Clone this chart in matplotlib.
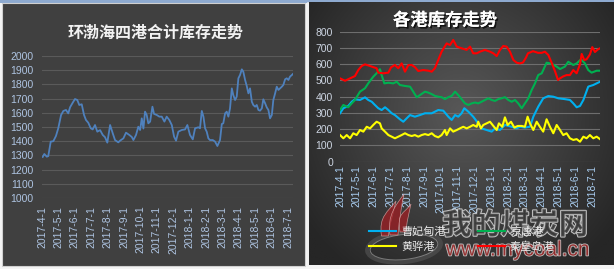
import numpy as np
import matplotlib
matplotlib.use('Agg')
import matplotlib.pyplot as plt
from matplotlib.patches import Rectangle, Ellipse, PathPatch
from matplotlib.path import Path
import matplotlib.patheffects as pe

plt.rcParams['font.family'] = ['Noto Sans CJK SC', 'DejaVu Sans']

# ---------------- data ----------------
month_labels = ['2017-4-1', '2017-5-1', '2017-6-1', '2017-7-1', '2017-8-1', '2017-9-1',
                '2017-10-1', '2017-11-1', '2017-12-1', '2018-1-1', '2018-2-1', '2018-3-1',
                '2018-4-1', '2018-5-1', '2018-6-1', '2018-7-1']

# left chart: total stock of four Bohai-rim ports (x in months since 2017-4-1)
total_months = [0.04, 0.14, 0.29, 0.38, 0.53, 0.69, 0.85, 0.99, 1.16, 1.30, 1.46, 1.60, 1.71, 1.87,
                2.01, 2.15, 2.27, 2.42, 2.56, 2.68, 2.82, 2.97, 3.09, 3.23, 3.37, 3.54, 3.70, 3.84,
                3.98, 4.15, 4.31, 4.45, 4.65,
                4.76, 4.96, 5.12, 5.32, 5.47, 5.57, 5.73, 5.87, 5.98, 6.08, 6.18, 6.28, 6.38, 6.48,
                6.59, 6.73, 6.83, 6.99, 7.15, 7.30, 7.46, 7.60, 7.76, 7.91, 8.05, 8.17, 8.31, 8.52,
                8.72, 8.86, 9.02, 9.19, 9.33, 9.53, 9.63, 9.74, 9.84, 9.94, 10.04, 10.14,
                10.24, 10.41, 10.55, 10.69, 10.85, 10.96, 11.05, 11.16, 11.26, 11.36, 11.46, 11.57,
                11.66, 11.77, 11.87, 11.97, 12.07, 12.18, 12.27, 12.38, 12.48, 12.58, 12.68, 12.79,
                12.88, 12.99, 13.09, 13.19, 13.29, 13.40, 13.49, 13.60, 13.70, 13.80, 13.90, 14.01,
                14.10, 14.21, 14.31, 14.41, 14.51, 14.62, 14.71, 14.82, 14.92, 15.02, 15.12, 15.23, 15.29]
total_stock = [1289, 1310, 1291, 1295, 1397, 1400, 1437, 1491, 1584, 1613, 1620, 1596, 1639, 1671,
               1697, 1690, 1655, 1660, 1585, 1549, 1530, 1491, 1483, 1514, 1467, 1478, 1444, 1428,
               1390, 1514, 1456, 1408, 1392,
               1404, 1420, 1460, 1444, 1430, 1408, 1444, 1502, 1479, 1561, 1489, 1608, 1585, 1526,
               1538, 1643, 1592, 1585, 1573, 1573, 1538, 1573, 1549, 1514, 1432, 1404, 1467, 1479,
               1483, 1514, 1444, 1413, 1491, 1498, 1491, 1613, 1573, 1491, 1467, 1420,
               1408, 1408, 1397, 1366, 1408, 1521, 1526, 1596, 1608, 1573, 1631, 1772,
               1725, 1690, 1714, 1843, 1866, 1906, 1890, 1831, 1789, 1737, 1772, 1678,
               1655, 1643, 1655, 1620, 1615, 1631, 1695, 1667, 1638, 1620, 1561, 1585,
               1690, 1737, 1784, 1761, 1772, 1784, 1796, 1836, 1843, 1831, 1855, 1866, 1873]

# right chart: individual ports
cfd_months = [0, 0.20, 0.49, 0.70, 0.89, 1.19, 1.49, 1.68, 1.89, 2.08, 2.28, 2.48, 2.68, 2.88, 3.08,
              3.27, 3.57, 3.77, 3.97, 4.17, 4.46, 4.76, 5.06, 5.46, 5.85, 6.15, 6.45, 6.65, 6.85, 7.04,
              7.24, 7.40, 7.64, 7.93, 8.23, 8.43, 8.73, 9.03, 9.23, 9.52, 9.82, 10.22, 10.52, 10.71,
              11.01, 11.31, 11.51, 11.80, 12.10, 12.40, 12.70, 13.00, 13.39, 13.69, 13.89, 14.09,
              14.29, 14.49, 14.78, 15.08, 15.38, 15.48]
cfd_stock = [298, 329, 343, 369, 384, 380, 396, 380, 369, 349, 329, 318, 335, 318, 298,
             287, 261, 246, 267, 287, 277, 287, 298, 298, 318, 314, 277, 257, 287, 277,
             298, 329, 308, 277, 236, 205, 195, 185, 205, 195, 226, 215, 205, 215,
             210, 215, 277, 338, 390, 404, 400, 390, 385, 380, 359, 335,
             343, 380, 462, 472, 487, 492]

jt_months = [0, 0.20, 0.49, 0.70, 0.89, 1.19, 1.49, 1.68, 1.98, 2.18, 2.38, 2.48, 2.64, 2.88, 3.17,
             3.38, 3.57, 3.87, 4.17, 4.36, 4.57, 4.76, 5.06, 5.26, 5.46, 5.65, 5.85, 6.05, 6.25, 6.45,
             6.65, 6.85, 7.04, 7.24, 7.44, 7.64, 7.84, 8.04, 8.23, 8.43, 8.63, 8.83, 9.03, 9.23, 9.42,
             9.62, 9.82, 10.02, 10.22, 10.42, 10.61, 10.82, 11.01, 11.21, 11.41, 11.61, 11.80, 12.01,
             12.30, 12.60, 12.90, 13.10, 13.39, 13.59, 13.89, 14.09, 14.35, 14.58, 14.78, 14.98,
             15.28, 15.48]
jt_stock = [318, 349, 335, 359, 380, 431, 452, 482, 523, 544, 569, 533, 482, 486, 482,
            492, 472, 466, 462, 431, 396, 410, 431, 425, 416, 405, 400, 397, 385, 397,
            405, 431, 410, 385, 359, 349, 359, 364, 359, 369, 380, 390, 380, 374, 385,
            390, 397, 380, 369, 380, 359, 329, 359, 390, 441, 482, 533, 544,
            609, 603, 585, 570, 585, 615, 595, 605, 630, 605, 564, 548,
            560, 560]

hh_months = [0, 0.20, 0.40, 0.60, 0.79, 0.99, 1.19, 1.39, 1.59, 1.79, 1.98, 2.18, 2.38, 2.48, 2.68,
             2.88, 3.08, 3.27, 3.47, 3.67, 3.87, 4.07, 4.27, 4.46, 4.66, 4.86, 5.06, 5.26, 5.46, 5.65,
             5.85, 6.05, 6.25, 6.35, 6.55, 6.74, 6.95, 7.14, 7.34, 7.54, 7.74, 7.93, 8.14, 8.23, 8.39,
             8.53, 8.73, 8.93, 9.13, 9.33, 9.46, 9.66, 9.82, 9.98, 10.18, 10.38, 10.58, 10.82, 11.01,
             11.17, 11.31, 11.51, 11.71, 11.90, 12.10, 12.30, 12.50, 12.70, 12.90, 13.10, 13.29,
             13.49, 13.69, 13.89, 14.09, 14.29, 14.49, 14.68, 14.88, 15.08, 15.28, 15.48]
hh_stock = [164, 144, 164, 144, 175, 164, 195, 185, 215, 205, 226, 246, 236, 205, 185,
            164, 154, 144, 154, 164, 175, 164, 158, 164, 154, 164, 170, 164, 175, 158,
            150, 164, 195, 164, 205, 185, 195, 205, 215, 205, 215, 226, 215, 246, 205,
            226, 236, 246, 220, 195, 236, 215, 273, 226, 246, 210, 220, 220, 215,
            277, 236, 195, 246, 215, 185, 261, 215, 175, 226, 195, 164,
            175, 144, 134, 139, 123, 154, 144, 164, 144, 154, 139]

qhd_months = [0, 0.30, 0.60, 0.89, 1.09, 1.29, 1.49, 1.79, 1.98, 2.18, 2.28, 2.58, 2.88, 3.04, 3.27,
              3.47, 3.67, 3.87, 4.07, 4.27, 4.46, 4.66, 4.96, 5.26, 5.46, 5.65, 5.85, 6.05, 6.35, 6.55,
              6.74, 6.95, 7.24, 7.54, 7.74, 7.93, 8.14, 8.33, 8.63, 8.93, 9.13, 9.33, 9.52, 9.72, 9.92,
              10.12, 10.32, 10.52, 10.71, 10.89, 11.07, 11.19, 11.49, 11.79, 12.01, 12.20, 12.40,
              12.60, 12.80, 12.98, 13.10, 13.29, 13.49, 13.69, 13.89, 14.09, 14.29, 14.39, 14.54,
              14.68, 14.88, 15.02, 15.18, 15.34, 15.48]
qhd_stock = [513, 498, 513, 527, 564, 589, 599, 589, 582, 575, 548, 544, 548, 581, 595,
             575, 605, 554, 595, 595, 582, 558, 564, 560, 554, 575, 626, 677, 728, 718,
             749, 708, 698, 688, 708, 667, 667, 677, 688, 677, 667, 650, 687, 712, 708,
             677, 626, 609, 605, 610, 640, 667, 680, 670, 670, 677, 657,
             609, 557, 503, 513, 525, 533, 533, 564, 544, 600, 663, 626,
             630, 660, 705, 675, 690, 698]

left_title = '环渤海四港合计库存走势'
right_title = '各港库存走势'
left_yticks = list(range(1000, 2001, 100))
right_yticks = list(range(0, 801, 100))

# ---------------- figure ----------------
W, H = 614, 269
fig = plt.figure(figsize=(W / 100, H / 100), dpi=100)
fig.patch.set_facecolor('#f4f4f4')


def fx(px):
    return px / W


def fy(py):
    return 1 - py / H


bg = fig.add_axes([0, 0, 1, 1], zorder=-5)
bg.axis('off')

# top strip
bg.add_patch(Rectangle((0, 0), W, 3, facecolor='#8eaad0', edgecolor='none'))
# left panel
bg.add_patch(Rectangle((1.5, 3), 303.5, 262.5, facecolor='#404040', edgecolor='#d0d0d0', lw=0.8))
# right panel with radial gradient
ny, nx = 120, 160
yy, xx = np.mgrid[0:1:ny * 1j, 0:1:nx * 1j]
r = np.sqrt(((xx - 0.5) / 0.62) ** 2 + ((yy - 0.42) / 0.75) ** 2)
r = np.clip(r, 0, 1)
c_center = np.array([0x58, 0x58, 0x58]) / 255
c_edge = np.array([0x26, 0x26, 0x26]) / 255
img = c_center[None, None, :] * (1 - r[..., None]) + c_edge[None, None, :] * r[..., None]
bg.imshow(img, extent=[308.5, 613.5, 265.5, 3], aspect='auto', interpolation='bilinear', zorder=1)
bg.plot([308, 308], [3, 266], color='#f0f0f0', lw=1.2, zorder=2)
bg.set_xlim(0, W)
bg.set_ylim(H, 0)

# ---------------- left chart ----------------
ax1 = fig.add_axes([fx(41.7), fy(198), (293 - 41.7) / W, 142 / H])
ax1.set_facecolor('none')
ax1.plot(total_months, total_stock, color='#4f81bd', lw=1.3, solid_joinstyle='round')
ax1.set_xlim(-0.02, 15.3)
ax1.set_ylim(1000, 2000)
ax1.set_yticks(left_yticks)
ax1.set_xticks(range(len(month_labels)))
ax1.set_xticklabels(month_labels, rotation=90, va='top', ha='center')
ax1.grid(axis='y', color='#5a5a5a', lw=0.8)
ax1.grid(axis='x', visible=False)
ax1.set_axisbelow(True)
for s in ax1.spines.values():
    s.set_visible(False)
ax1.tick_params(axis='both', length=0, colors='#aec4e2')
ax1.tick_params(axis='y', pad=6)
ax1.tick_params(axis='x', pad=5.5)
for lab in ax1.get_xticklabels() + ax1.get_yticklabels():
    lab.set_fontfamily('Liberation Sans')
    lab.set_fontsize(7.5)

fig.text(fx(156), fy(33), left_title, ha='center', va='center', fontsize=11.5,
         color='#f2f2f2', fontweight='bold')

# ---------------- right chart ----------------
ax2 = fig.add_axes([fx(340), fy(161.7), 260 / W, 130 / H])
ax2.set_facecolor('none')
l_cfd, = ax2.plot(cfd_months, cfd_stock, color='#00b0f0', lw=1.5, label='曹妃甸港')
l_jt, = ax2.plot(jt_months, jt_stock, color='#00b050', lw=1.5, label='京唐港')
l_hh, = ax2.plot(hh_months, hh_stock, color='#ffff00', lw=1.5, label='黄骅港')
l_qhd, = ax2.plot(qhd_months, qhd_stock, color='#ff0000', lw=1.5, label='秦皇岛港')
ax2.set_xlim(0, 15.48)
ax2.set_ylim(0, 800)
ax2.set_yticks(right_yticks)
ax2.set_xticks(range(len(month_labels)))
ax2.set_xticklabels(month_labels, rotation=90, va='top', ha='center')
ax2.grid(axis='y', color='#6e6e6e', lw=0.8)
ax2.grid(axis='x', visible=False)
ax2.set_axisbelow(True)
for s in ax2.spines.values():
    s.set_visible(False)
ax2.tick_params(axis='both', length=0)
ax2.tick_params(axis='y', pad=5, colors='#cdd5e2')
ax2.tick_params(axis='x', pad=2.5, colors='#a9cdf0')
for lab in ax2.get_xticklabels() + ax2.get_yticklabels():
    lab.set_fontfamily('Liberation Sans')
    lab.set_fontsize(7.5)

fig.text(fx(445), fy(20.5), right_title, ha='center', va='center', fontsize=12.5,
         color='#ffffff', fontweight='bold',
         path_effects=[pe.withSimplePatchShadow(offset=(1.2, -1.2), shadow_rgbFace='black', alpha=0.7),
                       pe.Normal()])

# ---------------- watermark (logo + site name) ----------------
wm = fig.add_axes([0, 0, 1, 1], zorder=4)
wm.axis('off')
wm.set_xlim(0, W)
wm.set_ylim(H, 0)
wm.add_patch(Ellipse((404, 247), 74, 30, angle=-6, facecolor='none', edgecolor='#505050',
                     lw=3.0, alpha=0.7))
wm.add_patch(Ellipse((404, 247), 68, 25, angle=-6, facecolor='none', edgecolor='#c8c8c8',
                     lw=0.7, alpha=0.5))


def flame(xb, yb, xt, yt, w):
    verts = [(xb - w / 2, yb),
             (xb - w / 2 - 3, yb - 20), (xt - 8, yt + 11), (xt, yt),
             (xt - 3, yt + 14), (xb + w / 2 + 1, yb - 12), (xb + w / 2, yb),
             (xb - w / 2, yb)]
    codes = [Path.MOVETO, Path.CURVE4, Path.CURVE4, Path.CURVE4,
             Path.CURVE4, Path.CURVE4, Path.CURVE4, Path.CLOSEPOLY]
    return PathPatch(Path(verts, codes), facecolor='#a01f24', edgecolor='#e0b0b0',
                     lw=0.5, alpha=0.75)


wm.add_patch(flame(385, 236, 396, 201, 7))
wm.add_patch(flame(394, 235, 404, 194, 8))
wm.add_patch(flame(403, 232, 411, 204, 6))

wm.text(515, 225, '我的煤炭网', ha='center', va='center', fontsize=21,
        color='#3a3a3a', alpha=0.85, fontweight='bold',
        path_effects=[pe.withStroke(linewidth=1.5, foreground='#d8d8d8')])
wm.text(518, 250, 'www.mycoal.cn', ha='center', va='center', fontsize=15,
        family='Liberation Sans', color='#8c1c1c', alpha=0.85,
        path_effects=[pe.withStroke(linewidth=1.2, foreground='#d8d8d8')])

leg = fig.legend([l_cfd, l_hh, l_jt, l_qhd], ['曹妃甸港', '黄骅港', '京唐港', '秦皇岛港'],
                 loc='upper left', bbox_to_anchor=(fx(369), fy(226)), ncol=2, frameon=False,
                 fontsize=8, handlelength=2.4, handletextpad=0.5, columnspacing=2.9,
                 labelspacing=0.45, borderpad=0, borderaxespad=0)
leg.set_zorder(20)
for t in leg.get_texts():
    t.set_color('#e8e8e8')

fig.savefig('out.png', dpi=100, facecolor=fig.get_facecolor())
